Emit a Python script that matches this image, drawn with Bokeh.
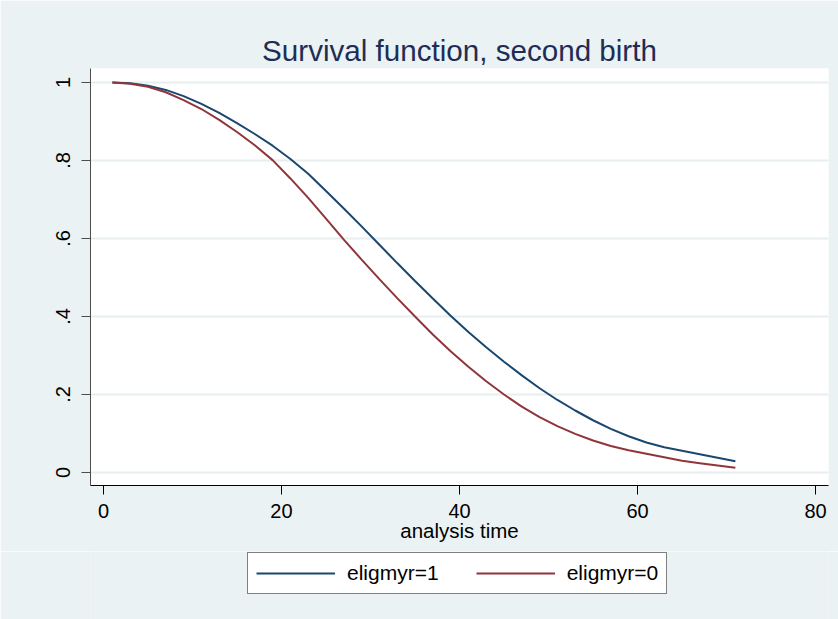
from bokeh.plotting import figure
from bokeh.layouts import column
from bokeh.models import Range1d, FixedTicker, Title, Legend, LegendItem, CustomJSTickFormatter
from bokeh.embed import file_html
from bokeh.resources import INLINE

# ---- data ----
t_vals = [1, 3, 5, 7, 9, 11, 13, 15, 17, 19, 21, 23, 25, 27, 29, 31, 33, 35,
          37, 39, 41, 43, 45, 47, 49, 51, 53, 55, 57, 59, 61, 63, 65, 67, 69, 71]
surv_elig1 = [1.000, 0.998, 0.992, 0.981, 0.965, 0.945, 0.922, 0.896, 0.868, 0.838, 0.804, 0.766,
              0.722, 0.677, 0.631, 0.584, 0.537, 0.491, 0.446, 0.402, 0.360, 0.321, 0.284, 0.249,
              0.216, 0.186, 0.159, 0.134, 0.112, 0.093, 0.077, 0.065, 0.056, 0.047, 0.038, 0.029]
surv_elig0 = [1.000, 0.997, 0.989, 0.975, 0.955, 0.932, 0.904, 0.873, 0.839, 0.801, 0.754, 0.704,
              0.651, 0.597, 0.546, 0.496, 0.447, 0.400, 0.354, 0.311, 0.271, 0.234, 0.200, 0.169,
              0.142, 0.119, 0.099, 0.082, 0.068, 0.057, 0.048, 0.039, 0.030, 0.024, 0.018, 0.012]
series_labels = ["eligmyr=1", "eligmyr=0"]
x_ticks = [0, 20, 40, 60, 80]
y_ticks = [0, 0.2, 0.4, 0.6, 0.8, 1]
y_tick_labels = ["0", ".2", ".4", ".6", ".8", "1"]
title_text = "Survival function, second birth"
x_title = "analysis time"

FONT = "Liberation Sans"
BG = "#EAF2F3"
NAVY = "#1A476F"
MAROON = "#90353B"
W = 838
H_MAIN = 551
H_LEG = 68

p = figure(width=W, height=H_MAIN, output_backend="svg", toolbar_location=None,
           x_range=Range1d(-1.46, 81.46), y_range=Range1d(-0.0333, 1.0359),
           min_border_left=90, min_border_right=10, min_border_top=68, min_border_bottom=66,
           background_fill_color="white", border_fill_color=BG, outline_line_color=None)

p.title = Title(text=title_text, align="center", text_font=FONT, text_font_size="29.6px",
                text_font_style="normal", text_color="#1E2D55", standoff=3)

p.xgrid.visible = False
p.ygrid.ticker = FixedTicker(ticks=y_ticks)
p.ygrid.grid_line_color = "#E6EEF0"
p.ygrid.grid_line_width = 2

# x axis
p.xaxis.ticker = FixedTicker(ticks=x_ticks)
p.xaxis.axis_line_color = "black"
p.xaxis.major_tick_line_color = "black"
p.xaxis.major_tick_out = 9
p.xaxis.major_tick_in = 0
p.xaxis.minor_tick_line_color = None
p.xaxis.major_label_standoff = 9
p.xaxis.major_label_text_font = FONT
p.xaxis.major_label_text_font_size = "20px"
p.xaxis.major_label_text_color = "black"
p.xaxis.axis_label = x_title
p.xaxis.axis_label_text_font = FONT
p.xaxis.axis_label_text_font_size = "20.5px"
p.xaxis.axis_label_text_font_style = "normal"
p.xaxis.axis_label_text_color = "black"
p.xaxis.axis_label_standoff = -2

# y axis
p.yaxis.ticker = FixedTicker(ticks=y_ticks)
p.yaxis.formatter = CustomJSTickFormatter(
    args=dict(vals=y_ticks, labs=y_tick_labels),
    code="""
    for (let i = 0; i < vals.length; i++) {
        if (Math.abs(vals[i] - tick) < 1e-9) { return labs[i]; }
    }
    return "";
    """)
p.yaxis.major_label_orientation = "vertical"
p.yaxis.axis_line_color = "#4d4d4d"
p.yaxis.major_tick_line_color = "#4d4d4d"
p.yaxis.major_tick_out = 9
p.yaxis.major_tick_in = 0
p.yaxis.minor_tick_line_color = None
p.yaxis.major_label_standoff = 11
p.yaxis.major_label_text_font = FONT
p.yaxis.major_label_text_font_size = "20px"
p.yaxis.major_label_text_color = "black"

p.line(t_vals, surv_elig1, line_color=NAVY, line_width=2)
p.line(t_vals, surv_elig0, line_color=MAROON, line_width=2)

# legend strip: the same two series, drawn outside this strip's visible range,
# so that only their legend entries show
lg = figure(width=W, height=H_LEG, output_backend="svg", toolbar_location=None,
            x_axis_location=None, y_axis_location=None,
            x_range=Range1d(200, 201), y_range=Range1d(200, 201),
            min_border_left=90, min_border_right=10, min_border_top=0, min_border_bottom=0,
            background_fill_color=BG, background_fill_alpha=1.0,
            border_fill_color=BG, outline_line_color=None)
lg.grid.visible = False
d1 = lg.line(t_vals, surv_elig1, line_color=NAVY, line_width=2)
d0 = lg.line(t_vals, surv_elig0, line_color=MAROON, line_width=2)

legend = Legend(items=[LegendItem(label=series_labels[0], renderers=[d1]),
                       LegendItem(label=series_labels[1], renderers=[d0])],
                location=(157, 25), orientation="horizontal", margin=0, padding=8,
                spacing=37, glyph_width=79, glyph_height=20, label_standoff=12,
                label_text_font=FONT, label_text_font_size="21px", label_text_color="black",
                border_line_color="black", border_line_width=1, background_fill_color="white",
                background_fill_alpha=1.0)
lg.add_layout(legend)

layout = column(p, lg, spacing=0)
open("out.html", "w").write(file_html(layout, INLINE))
